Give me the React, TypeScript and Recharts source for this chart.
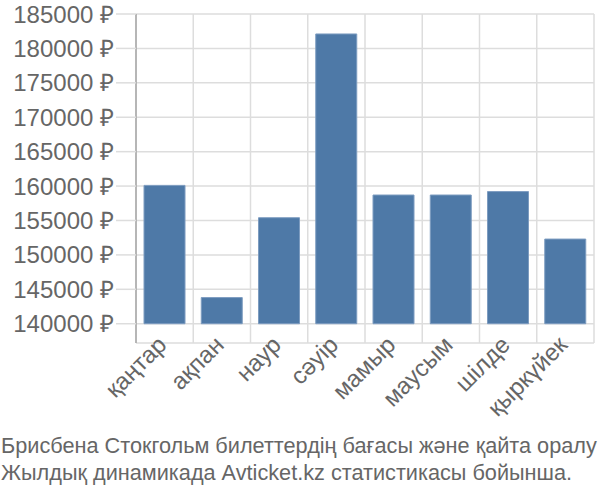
import React from 'react';
import { BarChart, Bar, XAxis, YAxis, CartesianGrid } from 'recharts';

const months = ['қаңтар', 'ақпан', 'наур', 'сәуір', 'мамыр', 'маусым', 'шілде', 'қыркүйек'];
const prices = [160100, 143800, 155400, 182100, 158700, 158700, 159200, 152300];
const baseValue = 140000;
const yTicks = [140000, 145000, 150000, 155000, 160000, 165000, 170000, 175000, 180000, 185000];
const yDomain = [137200, 185000];
const titleLines = [
  'Брисбена Стокгольм билеттердің бағасы және қайта оралу',
  'Жылдық динамикада Avticket.kz статистикасы бойынша.',
];

const data = months.map((m, i) => ({ name: m, range: [baseValue, prices[i]] }));

const FONT = '"Liberation Sans", Arial, sans-serif';
const TEXT = '#666666';
const GRID = '#dddddd';
const AXIS = '#a6a6a6';

const verticalGen = ({ offset }: any) => {
  const n = months.length;
  const pts: number[] = [];
  for (let i = 0; i <= n; i++) pts.push(offset.left + (offset.width * i) / n);
  return pts;
};

const XTick = (props: any) => {
  const { x, y, payload } = props;
  return (
    <text
      x={x}
      y={y}
      transform={`rotate(-45, ${x}, ${y})`}
      textAnchor="end"
      dy="0.2em"
      fill={TEXT}
      fontSize={24}
      fontFamily={FONT}
    >
      {payload.value}
    </text>
  );
};

export default function App() {
  return (
    <div style={{ position: 'relative', width: 600, height: 500, background: '#fff', fontFamily: FONT }}>
      <style>{`body{margin:0}`}</style>
      <BarChart
        width={600}
        height={430}
        data={data}
        margin={{ top: 14, right: 6, left: 0, bottom: 0 }}
        barCategoryGap="14%"
      >
        <CartesianGrid stroke={GRID} strokeWidth={1.5} verticalCoordinatesGenerator={verticalGen} />
        <XAxis
          dataKey="name"
          interval={0}
          height={87}
          axisLine={false}
          tickLine={false}
          tickSize={0}
          tickMargin={0}
          tick={<XTick />}
        />
        <YAxis
          type="number"
          domain={yDomain}
          ticks={yTicks}
          interval={0}
          allowDataOverflow
          width={136}
          axisLine={{ stroke: AXIS, strokeWidth: 1.5 }}
          tickLine={{ stroke: GRID, strokeWidth: 1.5 }}
          tickSize={20}
          tickMargin={2}
          tickFormatter={(v: number) => `${v} ₽`}
          tick={{ fill: TEXT, fontSize: 24, fontFamily: FONT }}
        />
        <Bar dataKey="range" fill="#4e79a7" stroke="#7d9cc0" strokeWidth={1} isAnimationActive={false} />
      </BarChart>
      <div
        style={{
          position: 'absolute',
          left: 1,
          top: 432,
          fontSize: 21.7,
          lineHeight: '27px',
          color: TEXT,
          whiteSpace: 'nowrap',
        }}
      >
        {titleLines.map((t) => (
          <div key={t}>{t}</div>
        ))}
      </div>
    </div>
  );
}
